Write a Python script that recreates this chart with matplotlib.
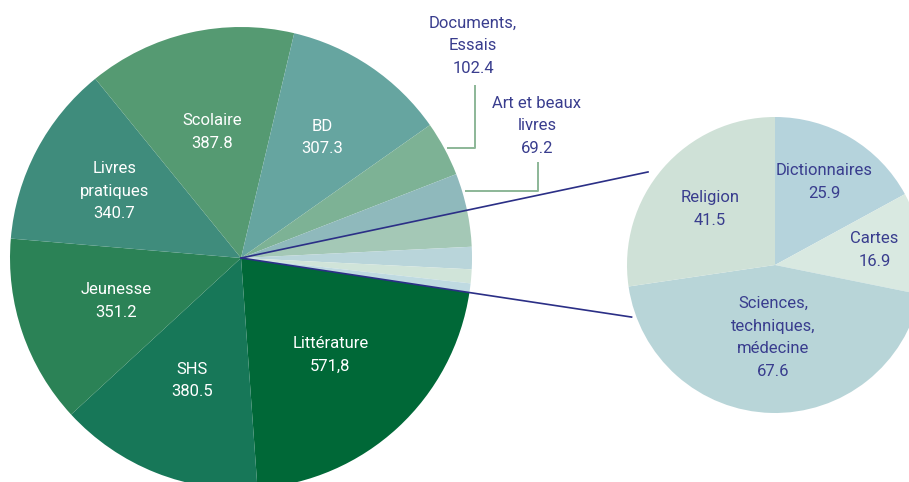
import matplotlib.pyplot as plt
import numpy as np

plt.rcParams['font.family'] = ['Roboto', 'DejaVu Sans']

# big pie (clockwise from Littérature)
big_labels = ["Littérature", "SHS", "Jeunesse", "Livres\npratiques", "Scolaire", "BD",
              "Documents,\nEssais", "Art et beaux\nlivres",
              "", "", "", ""]
big_values = [571.8, 380.5, 351.2, 340.7, 387.8, 307.3, 102.4, 69.2,
              67.6, 41.5, 25.9, 16.9]
big_text = ["571,8", "380.5", "351.2", "340.7", "387.8", "307.3", "102.4", "69.2",
            "", "", "", ""]
big_colors = ["#006837", "#177758", "#2b8256", "#3f8c7c", "#559a72", "#66a5a0",
              "#7db295", "#8fb9bc", "#a4c8b6", "#b9d5da", "#d0e4d9", "#bfdae1"]

# small pie (detail of the four small categories)
small_labels = ["Dictionnaires", "Cartes", "Sciences,\ntechniques,\nmédecine", "Religion"]
small_values = [25.9, 16.9, 67.6, 41.5]
small_colors = ["#b5d3dc", "#d9e9e1", "#b8d5d8", "#cfe1d7"]

W, H = 909, 482
fig = plt.figure(figsize=(W / 100, H / 100), dpi=100)
ax = fig.add_axes([0, 0, 1, 1])

c_big = (241, H - 258)
r_big = 231
c_small = (775, H - 265)
r_small = 148

navy = "#393d8e"
lead = "#8cb797"

wb, _ = ax.pie(big_values, colors=big_colors, center=c_big, radius=r_big,
               startangle=-8.6, counterclock=False, frame=True,
               wedgeprops=dict(linewidth=0))
ws, _ = ax.pie(small_values, colors=small_colors, center=c_small, radius=r_small,
               startangle=90, counterclock=False, frame=True,
               wedgeprops=dict(linewidth=0))
ax.set_xlim(0, W)
ax.set_ylim(0, H)
ax.set_aspect('equal')
ax.axis('off')

fs = 12
ls = 1.65
inner_dist = [0.57, 0.57, 0.57, 0.62, 0.56, 0.63]
for w, lab, val, d in zip(wb[:6], big_labels[:6], big_text[:6], inner_dist):
    a = np.deg2rad((w.theta1 + w.theta2) / 2)
    x = c_big[0] + d * r_big * np.cos(a)
    y = c_big[1] + d * r_big * np.sin(a)
    ax.text(x, y, lab + "\n" + val, ha='center', va='center', color='white',
            fontsize=fs, linespacing=ls)

# outer labels with leader lines
outer = [(6, 473, H - 46, 475, H - 85), (7, 537, H - 126, 538, H - 162)]
for i, tx, ty, lx, ly in outer:
    w = wb[i]
    a = np.deg2rad((w.theta1 + w.theta2) / 2)
    px = c_big[0] + r_big * 1.01 * np.cos(a)
    py = c_big[1] + r_big * 1.01 * np.sin(a)
    ax.plot([px, lx, lx], [py, py, ly], color=lead, lw=1.4, solid_capstyle='butt')
    ax.text(tx, ty, big_labels[i] + "\n" + big_text[i], ha='center', va='center',
            color=navy, fontsize=fs, linespacing=ls)

# connector lines from big pie centre to the detail pie
a_top = np.deg2rad(wb[8].theta2)
a_bot = np.deg2rad(wb[11].theta1)
for a, L in [(a_top, 416), (a_bot, 395)]:
    ax.plot([c_big[0], c_big[0] + L * np.cos(a)], [c_big[1], c_big[1] + L * np.sin(a)],
            color="#2b2f86", lw=1.2)

small_dist = [0.65, 0.68, 0.49, 0.58]
for w, lab, val, d in zip(ws, small_labels, small_values, small_dist):
    a = np.deg2rad((w.theta1 + w.theta2) / 2)
    x = c_small[0] + d * r_small * np.cos(a)
    y = c_small[1] + d * r_small * np.sin(a)
    ax.text(x, y, lab + "\n" + f"{val:.1f}", ha='center', va='center', color=navy,
            fontsize=fs, linespacing=ls)

fig.savefig("out.png", dpi=100)
